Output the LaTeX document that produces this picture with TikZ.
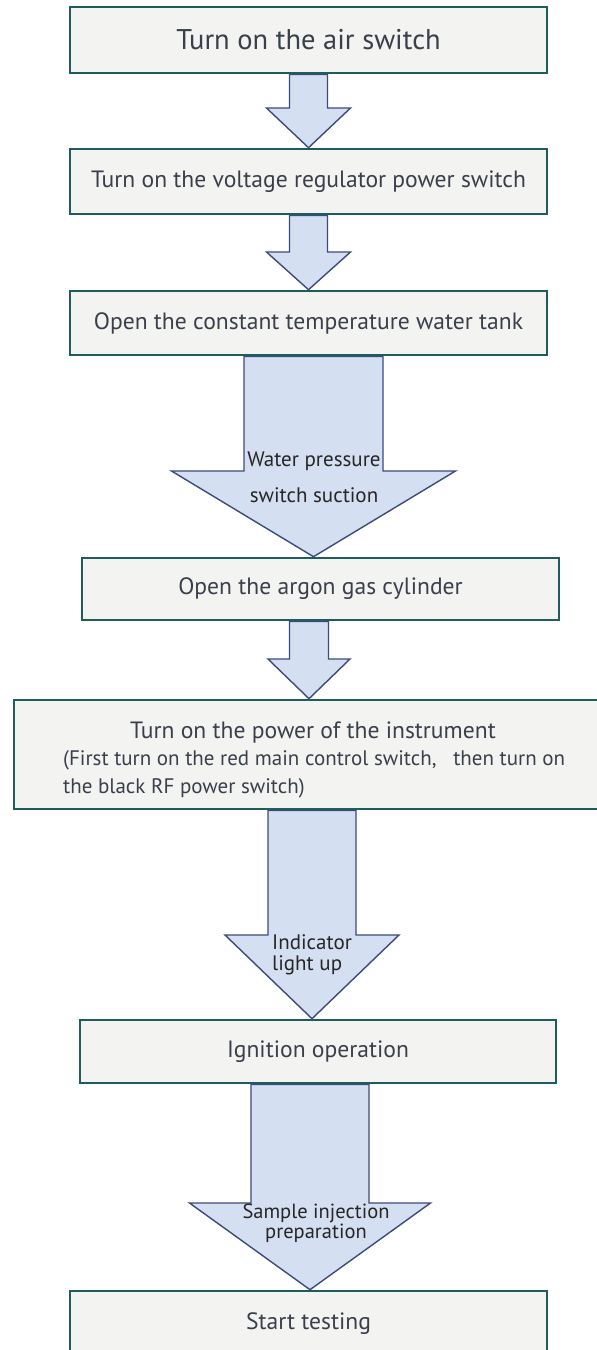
\documentclass[tikz,border=0pt]{standalone}
\usepackage{fontspec}
\setmainfont{PT Sans}
\usetikzlibrary{backgrounds,calc}
\definecolor{boxline}{HTML}{1F5C5E}
\definecolor{boxfill}{HTML}{F3F3F1}
\definecolor{arrline}{HTML}{3D4A7C}
\definecolor{arrfill}{HTML}{D5DFF2}
\definecolor{boxtext}{HTML}{3A3F4C}
\newcommand\blockarrow[6]{%
  \draw[blockarrow] let \p1=(#2.south), \p2=(#3.north) in
    ({#1-#4},\y1) -- ({#1-#4},#6) -- ({#1-#5},#6) -- (#1,\y2)
    -- ({#1+#5},#6) -- ({#1+#4},#6) -- ({#1+#4},\y1) -- cycle;}
\begin{document}
\begin{tikzpicture}[x=1pt,y=-1pt,
  stepbox/.style={draw=boxline, line width=2.6pt, fill=boxfill, inner sep=0pt,
    text=boxtext, minimum width=477pt, font=\fontsize{23.6}{28}\selectfont},
  blockarrow/.style={draw=arrline, line width=1.4pt, fill=arrfill, line join=miter},
  arrlabel/.style={inner sep=0pt, text=black!85, font=\fontsize{21}{25}\selectfont},
  boxlabel/.style={inner sep=0pt, text=boxtext}]
\useasboundingbox (0,0) rectangle (597,1350);
\clip (0,0) rectangle (597,1350);

\node[stepbox, minimum height=66pt, font=\fontsize{28.5}{33}\selectfont] (b1) at (308.5,40) {Turn on the air switch};
\node[stepbox, minimum height=65pt] (b2) at (308.5,181.5) {Turn on the voltage regulator power switch};
\node[stepbox, minimum height=64pt] (b3) at (308.5,323) {Open the constant temperature water tank};
\node[stepbox, minimum height=62pt] (b4) at (320.5,589) {Open the argon gas cylinder};
\node[stepbox, minimum height=109pt, minimum width=600pt] (b5) at (314,754.5) {};
\node[stepbox, minimum height=63pt, minimum width=476pt] (b6) at (318,1051.5) {Ignition operation};
\node[stepbox, minimum height=66pt] (b7) at (308.5,1324) {Start testing};

\node[boxlabel, font=\fontsize{23.6}{28}\selectfont] (b5a) at (313,732) {Turn on the power of the instrument};
\node[boxlabel, anchor=west, font=\fontsize{21}{25}\selectfont] (b5b) at (63,760) {(First turn on the red main control switch,\ \ \ then turn on};
\node[boxlabel, anchor=west, font=\fontsize{21}{25}\selectfont] (b5c) at (63,788) {the black RF power switch)};

\begin{pgfonlayer}{background}
\fill[white] (0,0) rectangle (597,1350);
\blockarrow{308.5}{b1}{b2}{19}{42}{108}
\blockarrow{308.5}{b2}{b3}{19}{42}{252}
\blockarrow{313.5}{b3}{b4}{69.5}{142}{471}
\blockarrow{309}{b4}{b5}{19.5}{41}{659}
\blockarrow{312}{b5}{b6}{44}{87}{935}
\blockarrow{310}{b6}{b7}{59}{120.5}{1203}
\end{pgfonlayer}

\node[arrlabel] (l3a) at (314,461) {Water pressure};
\node[arrlabel] (l3b) at (314,495) {switch suction};
\node[arrlabel, anchor=west] (l5a) at (272,942) {Indicator};
\node[arrlabel, anchor=west] (l5b) at (272,965) {light up};
\node[arrlabel, font=\fontsize{20.5}{24}\selectfont] (l6a) at (316,1213) {Sample injection};
\node[arrlabel, font=\fontsize{20.5}{24}\selectfont] (l6b) at (316,1233) {preparation};
\end{tikzpicture}
\end{document}
